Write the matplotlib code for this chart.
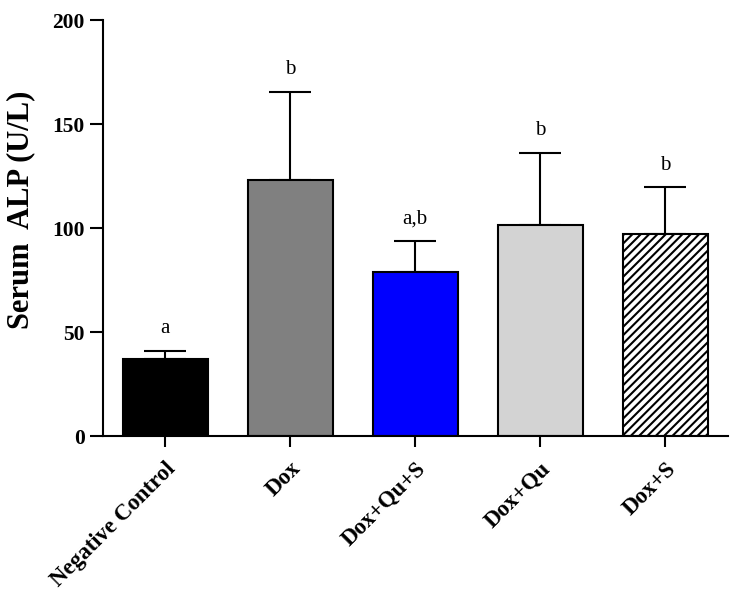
import matplotlib
matplotlib.use("Agg")
import matplotlib.pyplot as plt
import numpy as np

categories = ["Negative Control", "Dox", "Dox+Qu+S", "Dox+Qu", "Dox+S"]
means = [37.0, 123.0, 78.7, 101.6, 97.1]
errors = [4.0, 42.5, 15.0, 34.6, 22.5]
letters = ["a", "b", "a,b", "b", "b"]
colors = ["#000000", "#808080", "#0000ff", "#d3d3d3", "#ffffff"]
hatches = [None, None, None, None, "////"]
yticks = [0, 50, 100, 150, 200]

plt.rcParams["font.family"] = ["Liberation Serif", "DejaVu Serif"]
plt.rcParams["hatch.linewidth"] = 1.5

fig = plt.figure(figsize=(7.35, 6.0), dpi=100)
ax = fig.add_axes([103/735, 164/600, (728-103)/735, 416/600])

x = np.arange(len(categories))
for i in range(len(categories)):
    ax.bar(x[i], means[i], width=0.68, color=colors[i], edgecolor="black",
           linewidth=1.5, hatch=hatches[i], zorder=2)
    ax.errorbar(x[i], means[i], yerr=[[0], [errors[i]]], fmt="none",
                ecolor="black", elinewidth=1.5, capsize=15, capthick=1.5, zorder=1)
    ax.text(x[i], means[i] + errors[i] + 6, letters[i], ha="center", va="bottom",
            fontsize=15)

ax.set_xlim(-0.496, 4.5)
ax.set_ylim(0, 200)
ax.set_yticks(yticks)
ax.set_yticklabels([str(t) for t in yticks], fontsize=15.5, fontweight="bold")
ax.set_xticks(x)
ax.set_xticklabels(categories, rotation=45, ha="right", rotation_mode="anchor",
                   fontsize=16.5, fontweight="bold")
ax.set_ylabel("Serum  ALP (U/L)", fontsize=22, fontweight="bold")
ax.yaxis.set_label_coords(-0.109, 0.543)

for s in ["top", "right"]:
    ax.spines[s].set_visible(False)
for s in ["left", "bottom"]:
    ax.spines[s].set_linewidth(1.5)
ax.tick_params(axis="y", width=1.5, length=9.5, direction="out", pad=3.5)
ax.tick_params(axis="x", width=1.5, length=8, direction="out", pad=8)

fig.savefig("out.png", dpi=100)
